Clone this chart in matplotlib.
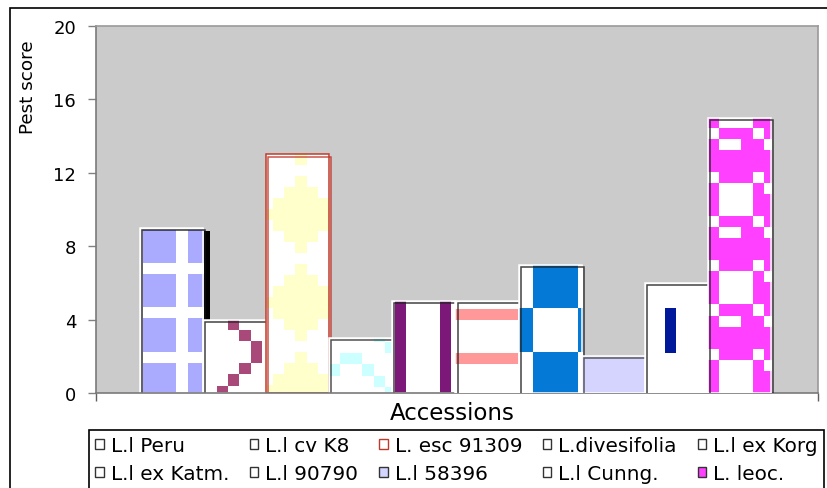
import math
import numpy as np
import matplotlib
matplotlib.use("Agg")
import matplotlib.pyplot as plt
from matplotlib import patheffects as pe
from matplotlib.patches import Patch, Rectangle
from matplotlib.colors import to_rgb

# ---------------- data ----------------
accessions = ["L.l Peru", "L.l cv K8", "L. esc 91309", "L.divesifolia", "L.l ex Korg",
              "L.l ex Katm.", "L.l 90790", "L.l 58396", "L.l Cunng.", "L. leoc."]
pest_scores = [9, 4, 13, 3, 5, 5, 7, 2, 6, 15]
y_ticks = [0, 4, 8, 12, 16, 20]

# ---------------- styles ----------------
fg_colors = ["#AAAAFF", "#A8497A", "#FFFFCC", "#CCFFFF", "#7B1878",
             "#FF9999", "#047AD6", "#D4D4FF", "#00189A", "#FF40FF"]
bg_colors = ["#FFFFFF"] * 10
edge_colors = ["white", "white", "#C0392B", "white", "white",
               "white", "white", "white", "white", "white"]
outline_colors = ["#111111", "#222222", "#C0392B", "#333333", "#222222",
                  "#222222", "#222222", "#444444", "#222222", "#222222"]
legend_faces = ["#FFFFFF", "#FFFFFF", "#FFFFFF", "#FFFFFF", "#FFFFFF",
                "#FFFFFF", "#FFFFFF", "#D4D4FF", "#FFFFFF", "#FF40FF"]
legend_edges = ["#333333", "#333333", "#C0392B", "#333333", "#333333",
                "#333333", "#333333", "#333333", "#333333", "#333333"]

def diamond_rows(widths, n=8, c=3):
    rows = []
    for w in widths:
        r = ["0"] * n
        h = (w - 1) // 2
        if w > 0:
            for k in range(c - h, c + h + 1):
                if 0 <= k < n:
                    r[k] = "1"
        rows.append("".join(r))
    return rows

def zig_rows(cols, n=8):
    return ["".join("1" if k == c else "0" for k in range(n)) for c in cols]

tiles = [
    ["1110", "1110", "1110", "0000"],                                   # Peru
    zig_rows([2, 3, 4, 4, 3, 2, 1, 1]),                                 # K8
    diamond_rows([1, 0, 1, 3, 5, 7, 5, 3]),                             # esc
    ["00001000", "00000100", "01100010", "10010001"],                   # divesifolia
    ["1000"],                                                           # Korg
    ["0", "1", "0", "0"],                                               # Katm
    ["01111000"] * 4 + ["10000111"] * 4,                                # 90790
    ["1"],                                                              # 58396
    ["00000000", "00000000", "00100000", "00100000",
     "00100000", "00100000", "00000000", "00000000"],                   # Cunng
    ["100011", "011101", "100110", "111111",
     "111111", "011101", "100010", "100011"],                           # leoc
]
tile_offsets = [(3, 3), (3, 0), (-4, 0), (0, -6), (3, 0),
                (0, -3), (3, 0), (0, 0), (-2, 4), (0, 0)]
CELL = 11.0

# ---------------- figure ----------------
W, H, DPI = 828, 489, 100
fig = plt.figure(figsize=(W / DPI, H / DPI), dpi=DPI)
fig.patch.set_facecolor("white")
ax = fig.add_axes([96 / W, 1 - 394 / H, 722 / W, 367 / H])
ax.set_facecolor("#CBCBCB")

x = np.arange(len(accessions))
xlim = (-1.197, 10.245)
ax.set_xlim(*xlim)
ax.set_ylim(0, 20)
ax.set_autoscale_on(False)

bars = ax.bar(x, pest_scores, width=1.0, color=bg_colors, linewidth=0)
edges = ax.bar(x, pest_scores, width=1.0, fill=False, edgecolor=edge_colors, linewidth=1.1)


def pattern_image(rect, tile, fg, bg, xoff, yoff, z):
    tr = ax.transData
    x0, y0 = rect.get_x(), rect.get_y()
    x1, y1 = x0 + rect.get_width(), y0 + rect.get_height()
    px0, py0 = tr.transform((x0, y0))
    px1, py1 = tr.transform((x1, y1))
    ox = px0 + xoff
    oy = py1 - yoff
    c_start = math.floor((px0 - ox) / CELL) - 1
    c_end = math.ceil((px1 - ox) / CELL) + 1
    r_start = math.floor((oy - py1) / CELL) - 1
    r_end = math.ceil((oy - py0) / CELL) + 1
    rows = np.arange(r_start, r_end)
    cols = np.arange(c_start, c_end)
    t = np.array([[ch == "1" for ch in row] for row in tile])
    th, tw = t.shape
    mask = t[np.ix_(rows % th, cols % tw)]
    img = np.where(mask[..., None], np.array(to_rgb(fg)), np.array(to_rgb(bg)))
    inv = tr.inverted()
    left, top = inv.transform((ox + c_start * CELL, oy - r_start * CELL))
    right, bottom = inv.transform((ox + c_end * CELL, oy - r_end * CELL))
    im = ax.imshow(img, extent=(left, right, bottom, top), origin="upper",
                   interpolation="nearest", aspect="auto", zorder=z)
    im.set_clip_path(rect)
    return im


for i, (b, e) in enumerate(zip(bars, edges)):
    z = 2 + 0.1 * i
    b.set_zorder(z)
    e.set_zorder(z + 0.06)
    if i == 0:
        b.set_path_effects([pe.SimplePatchShadow(offset=(5.2, -2.2), shadow_rgbFace="black", alpha=1.0),
                            pe.Normal()])
    xo, yo = tile_offsets[i]
    pattern_image(b, tiles[i], fg_colors[i], bg_colors[i], xo, yo, z + 0.03)
    e.set_path_effects([pe.Normal(),
                        pe.PathPatchEffect(offset=(1.5, -1.5), facecolor="none",
                                           edgecolor=outline_colors[i], linewidth=1.1, alpha=0.85)])

ax.set_xlim(*xlim)
ax.set_ylim(0, 20)

# axes styling
ax.set_yticks(y_ticks)
ax.set_yticklabels([str(v) for v in y_ticks], fontsize=13, family="DejaVu Sans")
ax.tick_params(axis="y", direction="out", length=5.8, width=1.0, color="#808080", pad=8.5)
ax.set_xticks(list(xlim))
ax.set_xticklabels([])
ax.tick_params(axis="x", direction="out", length=5.8, width=1.0, color="#606060")
for s in ["left", "bottom"]:
    ax.spines[s].set_color("#7A7A7A")
    ax.spines[s].set_linewidth(1.2)
for s in ["top", "right"]:
    ax.spines[s].set_color("#9A9A9A")
    ax.spines[s].set_linewidth(1.2)

ax.set_xlabel("Accessions", fontsize=16.5, family="DejaVu Sans")
ax.xaxis.set_label_coords(0.493, -0.023)
ax.xaxis.label.set_va("top")

fig.text(28 / W, 1 - 87 / H, "Pest score", rotation=90, ha="center", va="center",
         fontsize=13.2, family="DejaVu Sans")

# legend (row-major order)
handles = [Patch(facecolor=legend_faces[i], edgecolor=legend_edges[i], linewidth=1.0)
           for i in range(len(accessions))]
order = [0, 5, 1, 6, 2, 7, 3, 8, 4, 9]
leg = fig.legend([handles[i] for i in order], [accessions[i] for i in order],
                 ncol=5, loc="upper left", mode="expand",
                 bbox_to_anchor=(89 / W, 1 - 431 / H - 0.3, 735 / W, 0.3),
                 bbox_transform=fig.transFigure, borderaxespad=0,
                 prop={"family": "DejaVu Sans", "size": 14.4},
                 handlelength=0.42, handleheight=0.42, handletextpad=0.35,
                 labelspacing=0.45, borderpad=0.32, columnspacing=0.3,
                 fancybox=False, framealpha=1, edgecolor="black")
leg.get_frame().set_linewidth(1.2)

# outer chart border
fig.patches.append(Rectangle((10 / W, -0.5), 2.0, 0.5 + (1 - 9 / H), transform=fig.transFigure,
                             fill=False, edgecolor="black", linewidth=1.2, zorder=0))

fig.savefig("out.png", dpi=DPI)
